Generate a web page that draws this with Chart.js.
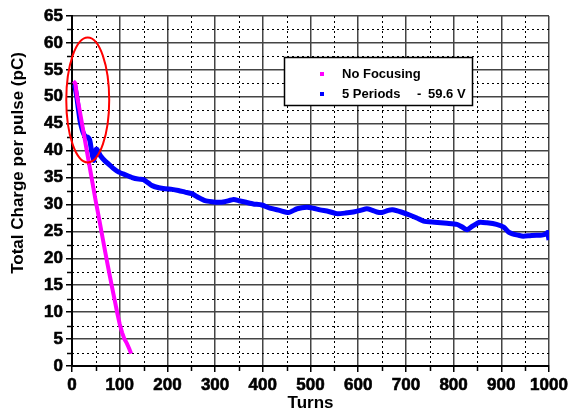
<!DOCTYPE html>
<html>
<head>
<meta charset="utf-8">
<script src="https://cdn.jsdelivr.net/npm/chart.js@4.4.1/dist/chart.umd.min.js"></script>
<style>
    body { margin: 0; background: #fff; }
    canvas { display: block; }
</style>
</head>
<body>
<canvas id="chartCanvas" width="569" height="416"></canvas>
<script>
/* ----------------------------------------
   DATA
---------------------------------------- */
const noFocusTurns  = [3, 5, 7, 10, 15, 20, 25, 30, 35, 40, 45, 50, 55, 60, 65, 70, 75, 80, 85, 90, 95, 100, 105, 110, 115, 120, 124];
const noFocusCharge = [52.9, 52.7, 52.5, 50.3, 48, 45.5, 43, 40.5, 38, 35.5, 33, 30.5, 28.2, 25.8, 23.4, 21, 18.7, 16.4, 14.2, 12, 9.8, 7.8, 6.2, 5, 4.2, 3.2, 2.3];

const periodTurns  = [3, 5, 7, 10, 13, 17, 21, 25, 29, 33, 37, 40, 43, 46, 48, 51, 54, 60, 70, 77, 88, 98, 112, 126, 140, 150, 160, 168, 182, 195, 210, 223, 237, 251, 265, 279, 293, 307, 320, 339, 350, 365, 380, 398, 415, 435, 454, 472, 492, 506, 520, 538, 555, 573, 590, 605, 618, 630, 639, 650, 663, 672, 690, 709, 723, 737, 760, 786, 807, 818, 828, 840, 855, 870, 890, 905, 915, 922, 935, 946, 960, 974, 985, 995, 997, 1000];
const periodCharge = [52.4, 52.3, 51.5, 50, 48, 45.5, 44, 43, 42.6, 42.5, 42, 40.5, 39, 38.2, 39.5, 40.3, 40, 39, 38, 37.5, 36.6, 36, 35.5, 35, 34.7, 34.6, 34, 33.5, 33.1, 32.9, 32.8, 32.6, 32.3, 32, 31.3, 30.7, 30.5, 30.4, 30.5, 30.9, 30.7, 30.4, 30.1, 29.9, 29.3, 28.9, 28.5, 29.2, 29.5, 29.3, 29, 28.7, 28.3, 28.4, 28.6, 28.9, 29.2, 28.9, 28.6, 28.5, 28.9, 29, 28.6, 28, 27.5, 26.9, 26.7, 26.5, 26.3, 25.8, 25.3, 26, 26.7, 26.6, 26.3, 25.8, 24.9, 24.6, 24.3, 24.1, 24.2, 24.3, 24.3, 24.6, 24.8, 23.4];

const seriesLabels = ["No Focusing", "5 Periods"];
const seriesSuffix = ["", "59.6 V"];
const seriesColors = ["#ff00ff", "#0000ff"];

// highlighted region (data units): centre turns / charge, half widths
const ellipseCenter = [33, 49.4];
const ellipseRadius = [45, 11.6];

const toPoints = (xs, ys) => xs.map((v, i) => ({ x: v, y: ys[i] }));
const FONT = "Arial, 'Liberation Sans', sans-serif";

Chart.defaults.font.family = FONT;
Chart.defaults.font.weight = "bold";
Chart.defaults.color = "#000";

/* ----------------------------------------
   EXTRAS: minor dotted grid, y title, ellipse, legend box
---------------------------------------- */
const extras = {
    id: "extras",
    beforeDatasetsDraw(chart) {
        const { ctx, chartArea: a, scales: { x, y } } = chart;
        ctx.save();
        ctx.strokeStyle = "#000";
        ctx.lineWidth = 1;
        ctx.setLineDash([2, 3]);
        for (let v = 50; v < 1000; v += 100) {
            const px = Math.round(x.getPixelForValue(v)) + 0.5;
            ctx.beginPath(); ctx.moveTo(px, a.top); ctx.lineTo(px, a.bottom); ctx.stroke();
        }
        for (let v = 2.5; v < 65; v += 5) {
            const py = Math.round(y.getPixelForValue(v)) + 0.5;
            ctx.beginPath(); ctx.moveTo(a.left, py); ctx.lineTo(a.right, py); ctx.stroke();
        }
        // minor ticks outside
        ctx.setLineDash([]);
        ctx.lineWidth = 1.5;
        for (let v = 50; v < 1000; v += 100) {
            const px = Math.round(x.getPixelForValue(v)) + 0.5;
            ctx.beginPath(); ctx.moveTo(px, a.bottom); ctx.lineTo(px, a.bottom + 5); ctx.stroke();
        }
        for (let v = 2.5; v < 65; v += 5) {
            const py = Math.round(y.getPixelForValue(v)) + 0.5;
            ctx.beginPath(); ctx.moveTo(a.left, py); ctx.lineTo(a.left - 5, py); ctx.stroke();
        }
        ctx.restore();
    },
    afterDraw(chart) {
        const { ctx, scales: { x, y } } = chart;
        ctx.save();

        // y axis title (sits above the axis centre in the original)
        ctx.translate(18, 163);
        ctx.rotate(-Math.PI / 2);
        ctx.font = "bold 17px " + FONT;
        ctx.fillStyle = "#000";
        ctx.textAlign = "center";
        ctx.textBaseline = "middle";
        ctx.fillText("Total Charge per pulse (pC)", 0, 0);
        ctx.setTransform(1, 0, 0, 1, 0, 0);
        ctx.textAlign = "left";

        // red ellipse
        const cx = x.getPixelForValue(ellipseCenter[0]);
        const cy = y.getPixelForValue(ellipseCenter[1]);
        const rx = x.getPixelForValue(ellipseCenter[0] + ellipseRadius[0]) - cx;
        const ry = cy - y.getPixelForValue(ellipseCenter[1] + ellipseRadius[1]);
        ctx.strokeStyle = "#ff0000";
        ctx.lineWidth = 2;
        ctx.beginPath();
        ctx.ellipse(cx, cy, rx, ry, 0, 0, Math.PI * 2);
        ctx.stroke();

        // legend box
        ctx.fillStyle = "#fff";
        ctx.fillRect(284, 57, 188, 48);
        ctx.strokeStyle = "#000";
        ctx.lineWidth = 1.5;
        ctx.strokeRect(284.5, 57.5, 188, 48);
        ctx.font = "bold 13px " + FONT;
        ctx.textBaseline = "middle";
        seriesLabels.forEach((lbl, i) => {
            const ly = 74 + i * 20;
            ctx.fillStyle = seriesColors[i];
            ctx.fillRect(320, ly - 2, 4, 4);
            ctx.fillStyle = "#000";
            ctx.fillText(lbl, 342, ly);
            if (seriesSuffix[i]) {
                ctx.fillText("-", 417, ly);
                ctx.fillText(seriesSuffix[i], 428, ly);
            }
        });
        ctx.restore();
    }
};

/* ----------------------------------------
   CHART
---------------------------------------- */
const tickStyle = {
    color: "#000",
    padding: 3,
    font: { family: FONT, size: 17, weight: "bold" },
    textStrokeColor: "#000",
    textStrokeWidth: 0.6
};

new Chart(document.getElementById("chartCanvas").getContext("2d"), {
    type: "line",
    data: {
        datasets: [
            {
                label: seriesLabels[0],
                data: toPoints(noFocusTurns, noFocusCharge),
                borderColor: seriesColors[0],
                borderWidth: 4,
                pointRadius: 0,
                tension: 0
            },
            {
                label: seriesLabels[1],
                data: toPoints(periodTurns, periodCharge),
                borderColor: seriesColors[1],
                borderWidth: 5,
                pointRadius: 0,
                tension: 0.2
            }
        ]
    },
    options: {
        responsive: false,
        animation: false,
        layout: { padding: { left: 4, right: 20, top: 16, bottom: 2 } },
        plugins: {
            legend: { display: false },
            tooltip: { enabled: false }
        },
        scales: {
            x: {
                type: "linear",
                min: 0,
                max: 1000,
                afterFit: scale => {
                    scale.height = 48;
                    scale.paddingLeft = 0;
                    scale.paddingRight = 0;
                },
                ticks: Object.assign({ stepSize: 100, maxRotation: 0, callback: v => String(v) }, tickStyle),
                grid: { color: "#444", lineWidth: 1.5, tickLength: 6, tickColor: "#000" },
                border: { color: "#000", width: 2 },
                title: {
                    display: true,
                    text: "Turns",
                    color: "#000",
                    font: { family: FONT, size: 17, weight: "bold" },
                    padding: { top: 0, bottom: 0 }
                }
            },
            y: {
                min: 0,
                max: 65,
                afterFit: scale => {
                    scale.width = 68;
                    scale.paddingTop = 0;
                    scale.paddingBottom = 0;
                },
                ticks: Object.assign({ stepSize: 5 }, tickStyle),
                grid: { color: "#444", lineWidth: 1.5, tickLength: 6, tickColor: "#000" },
                border: { color: "#000", width: 2 }
            }
        }
    },
    plugins: [extras]
});
</script>
</body>
</html>
